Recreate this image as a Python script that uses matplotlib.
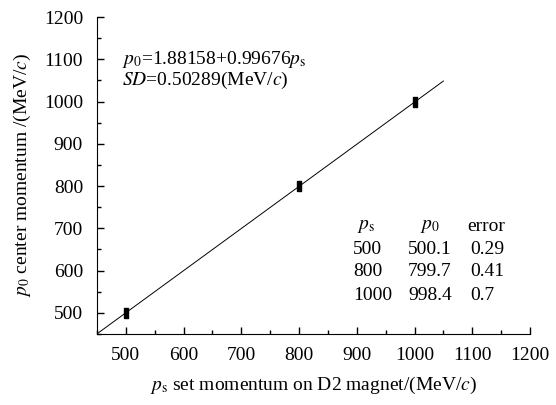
import matplotlib
matplotlib.use("Agg")
from matplotlib import pyplot as plt
from matplotlib.ticker import MultipleLocator

plt.rcParams['font.family'] = ['Liberation Serif', 'DejaVu Serif']
plt.rcParams['mathtext.fontset'] = 'stix'

# data
ps_set = [500, 800, 1000]
p0_meas = [500.1, 799.7, 998.4]
p0_err = [0.29, 0.41, 0.7]
fit_a = 1.88158
fit_b = 0.99676
fit_x = [450, 1050]

FS = 14
W, H = 556, 405
fig = plt.figure(figsize=(W / 100, H / 100), dpi=100)
ax = fig.add_axes([97 / W, 1 - 334 / H, (530 - 97) / W, (334 - 17) / H])

fit_y = [fit_a + fit_b * x for x in fit_x]
ax.plot(fit_x, fit_y, "-", color="black", lw=0.7)

rect = [(-1, -2), (1, -2), (1, 2), (-1, 2), (-1, -2)]
ax.plot(ps_set, p0_meas, linestyle="none", marker=rect, markersize=7,
        color="black")

ax.set_xlim(450, 1200)
ax.set_ylim(450, 1200)
ax.xaxis.set_major_locator(MultipleLocator(100))
ax.xaxis.set_minor_locator(MultipleLocator(50))
ax.yaxis.set_major_locator(MultipleLocator(100))
ax.yaxis.set_minor_locator(MultipleLocator(50))
ax.set_xticks(range(500, 1201, 100))
ax.set_yticks(range(500, 1201, 100))
ax.spines['top'].set_visible(False)
ax.spines['right'].set_visible(False)
ax.tick_params(which="major", direction="in", length=5, width=1, labelsize=FS)
ax.tick_params(which="minor", direction="in", length=3, width=1)
ax.tick_params(axis="x", pad=9)
ax.tick_params(axis="y", pad=10)

ax.set_xlabel(r"$p_\mathrm{s}$ set momentum on D2 magnet/(MeV/$c$)", fontsize=FS, labelpad=8)
ax.set_ylabel(r"$p_0$ center momentum /(MeV/$c$)", fontsize=FS, labelpad=8)

def fx(px):
    return px / W

def fy(py):
    return 1 - py / H

fig.text(fx(122), fy(60), r"$p_0$=%.5f+%.5f$p_\mathrm{s}$" % (fit_a, fit_b),
         fontsize=FS, va="center")
fig.text(fx(122), fy(80), r"$SD$=0.50289(MeV/$c$)", fontsize=FS, va="center")

rows_y = [249, 272, 295]
fig.text(fx(357), fy(227), r"$p_\mathrm{s}$", fontsize=FS, va="center")
fig.text(fx(420), fy(227), r"$p_0$", fontsize=FS, va="center")
fig.text(fx(467), fy(227), "error", fontsize=FS, va="center")
for s, p, e, y in zip(ps_set, p0_meas, p0_err, rows_y):
    fig.text(fx(353), fy(y), str(s), fontsize=FS, va="center")
    fig.text(fx(408), fy(y), str(p), fontsize=FS, va="center")
    fig.text(fx(470), fy(y), str(e), fontsize=FS, va="center")

fig.savefig("out.png", dpi=100)
